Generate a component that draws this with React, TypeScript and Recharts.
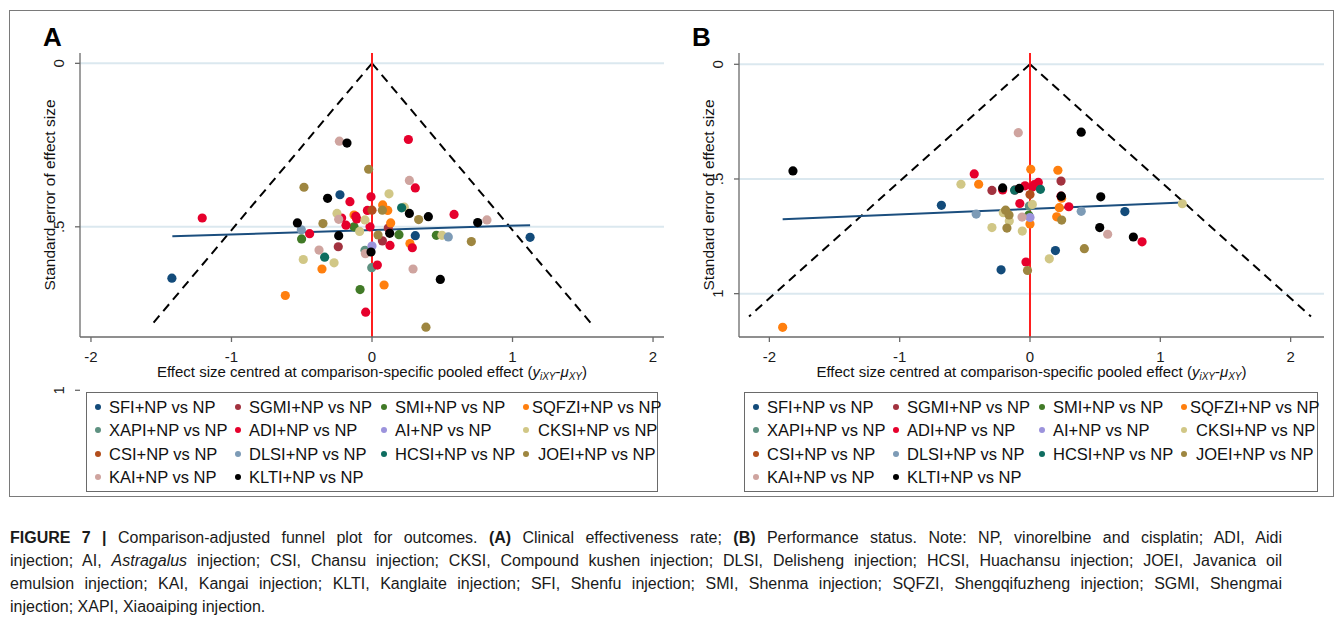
import React from 'react';
import { ScatterChart, Scatter, XAxis, YAxis, ReferenceLine, Legend } from 'recharts';

// ---------- series ----------
const SERIES_NAMES = [
  'SFI+NP vs NP', 'SGMI+NP vs NP', 'SMI+NP vs NP', 'SQFZI+NP vs NP',
  'XAPI+NP vs NP', 'ADI+NP vs NP', 'AI+NP vs NP', 'CKSI+NP vs NP',
  'CSI+NP vs NP', 'DLSI+NP vs NP', 'HCSI+NP vs NP', 'JOEI+NP vs NP',
  'KAI+NP vs NP', 'KLTI+NP vs NP',
];
const SERIES_COLORS = [
  '#134b7a', '#a2323f', '#417a27', '#ff7f0e',
  '#5e9181', '#e6002c', '#9c93dc', '#d1c786',
  '#b24e1c', '#7d9bb6', '#0e6d60', '#9e8640',
  '#cfa49f', '#000000',
];

// ---------- panel A: [effect centred, standard error] ----------
const A_SFI = [[-0.228, 0.402], [0.308, 0.527], [1.125, 0.532], [-1.424, 0.657]];
const A_SGMI = [[0.116, 0.504], [-0.24, 0.561], [0.074, 0.543]];
const A_SMI = [[-0.128, 0.5], [-0.501, 0.537], [0.192, 0.524], [0.458, 0.526], [-0.085, 0.692]];
const A_SQFZI = [[0.076, 0.433], [0.112, 0.45], [-0.128, 0.464], [0.133, 0.488], [0.27, 0.551], [-0.356, 0.629], [-0.617, 0.71], [0.086, 0.678]];
const A_XAPI = [[-0.05, 0.572], [-0.002, 0.625]];
const A_ADI = [[0.259, 0.233], [0.308, 0.381], [-0.157, 0.423], [-0.007, 0.408], [-1.208, 0.473], [-0.033, 0.45], [0.584, 0.462], [-0.109, 0.476], [-0.115, 0.468], [-0.185, 0.495], [-0.216, 0.473], [-0.014, 0.5], [-0.444, 0.521], [0.128, 0.557], [0.287, 0.564], [0.038, 0.617], [-0.045, 0.761]];
const A_AI = [[0, 0.559]];
const A_CKSI = [[0.121, 0.399], [-0.249, 0.459], [-0.05, 0.479], [-0.088, 0.514], [0.498, 0.526], [-0.489, 0.6], [-0.27, 0.61], [0.23, 0.44]];
const A_CSI = [[0, 0.449]];
const A_DLSI = [[-0.503, 0.509], [0.543, 0.531]];
const A_HCSI = [[0.211, 0.442], [-0.337, 0.593]];
const A_JOEI = [[-0.024, 0.324], [-0.484, 0.379], [0.074, 0.449], [0.332, 0.478], [-0.349, 0.49], [0.043, 0.525], [0.707, 0.545], [0.384, 0.807]];
const A_KAI = [[-0.232, 0.238], [0.266, 0.358], [-0.237, 0.477], [0.818, 0.479], [-0.377, 0.571], [-0.047, 0.582], [0.292, 0.629]];
const A_KLTI = [[-0.178, 0.244], [-0.316, 0.413], [0.266, 0.459], [0.401, 0.469], [0.752, 0.487], [-0.531, 0.488], [-0.237, 0.527], [0.126, 0.52], [-0.007, 0.577], [0.486, 0.661]];

// ---------- panel B ----------
const B_SFI = [[-0.68, 0.615], [0.728, 0.642], [0.195, 0.812], [-0.222, 0.896]];
const B_SGMI = [[-0.292, 0.55], [0.238, 0.509]];
const B_SMI = [[-0.01, 0.658]];
const B_SQFZI = [[0.006, 0.458], [0.214, 0.462], [-0.394, 0.523], [0.243, 0.584], [0.225, 0.625], [0.205, 0.665], [0, 0.696], [-1.898, 1.147]];
const B_XAPI = [[-0.005, 0.618]];
const B_ADI = [[-0.428, 0.478], [-0.21, 0.548], [-0.115, 0.548], [-0.038, 0.53], [0.018, 0.535], [0.033, 0.525], [0.064, 0.515], [0.238, 0.575], [-0.078, 0.607], [0.298, 0.621], [0.86, 0.774], [-0.031, 0.862]];
const B_AI = [[0, 0.668]];
const B_CKSI = [[-0.53, 0.523], [0.018, 0.611], [1.169, 0.608], [-0.205, 0.647], [-0.159, 0.683], [-0.292, 0.712], [-0.059, 0.727], [0.148, 0.848]];
const B_CSI = [[0, 0.568]];
const B_DLSI = [[-0.413, 0.653], [0.393, 0.641]];
const B_HCSI = [[-0.118, 0.549], [0.08, 0.545]];
const B_JOEI = [[-0.187, 0.636], [-0.161, 0.657], [-0.177, 0.714], [0.243, 0.679], [0.417, 0.804], [-0.019, 0.899]];
const B_KAI = [[-0.09, 0.298], [-0.061, 0.666], [0.596, 0.741]];
const B_KLTI = [[0.393, 0.296], [-1.819, 0.465], [-0.21, 0.539], [-0.082, 0.541], [0.24, 0.575], [0.543, 0.578], [0.535, 0.712], [0.793, 0.753]];

const PANEL_A = [A_SFI, A_SGMI, A_SMI, A_SQFZI, A_XAPI, A_ADI, A_AI, A_CKSI, A_CSI, A_DLSI, A_HCSI, A_JOEI, A_KAI, A_KLTI];
const PANEL_B = [B_SFI, B_SGMI, B_SMI, B_SQFZI, B_XAPI, B_ADI, B_AI, B_CKSI, B_CSI, B_DLSI, B_HCSI, B_JOEI, B_KAI, B_KLTI];

// pseudo 95% funnel: max standard error, and regression line end points
const FUNNEL_SE_A = 0.8;
const FUNNEL_SE_B = 1.1;
const REG_A = [[-1.421, 0.529], [1.125, 0.495]];
const REG_B = [[-1.898, 0.676], [1.171, 0.603]];

const X_TICKS = [-2, -1, 0, 1, 2];
const Y_TICKS = [0, 0.5, 1];

const FONT = '"Liberation Sans", Arial, Helvetica, sans-serif';
const AXIS_COLOR = '#6a6a6a';

const fmtY = (v: number) => (v === 0 ? '0' : v === 1 ? '1' : String(v).replace(/^0/, ''));

const YTick = (props: any) => {
  const { x, y, payload } = props;
  return (
    <text x={x} y={y} transform={`rotate(-90 ${x} ${y})`} textAnchor="middle" fontSize={15} fill="#1a1a1a">
      {fmtY(payload.value)}
    </text>
  );
};

const XLabel = (props: any) => {
  const vb = props.viewBox;
  const cx = vb.x + vb.width / 2;
  return (
    <text x={cx} y={vb.y + 40} textAnchor="middle" fontSize={15} fill="#111">
      Effect size centred at comparison-specific pooled effect (
      <tspan fontStyle="italic">y</tspan>
      <tspan fontStyle="italic" fontSize={10} dy={3}>iXY</tspan>
      <tspan dy={-3}>-</tspan>
      <tspan fontStyle="italic">μ</tspan>
      <tspan fontStyle="italic" fontSize={10} dy={3}>XY</tspan>
      <tspan dy={-3}>)</tspan>
    </text>
  );
};

const YLabel = (props: any) => {
  const vb = props.viewBox;
  const x = vb.x + vb.width - 25;
  const y = vb.y + vb.height / 2;
  return (
    <text x={x} y={y} transform={`rotate(-90 ${x} ${y})`} textAnchor="middle" fontSize={15.5} fill="#111">
      Standard error of effect size
    </text>
  );
};

const TEXT_COLS = [22, 162, 308, 451];

const LegendBox = () => (
  <div style={{ position: 'relative', width: '100%', height: '100%', border: '1.5px solid #6a6a6a', boxSizing: 'border-box', background: '#fff', fontFamily: FONT }}>
    {SERIES_NAMES.map((n, i) => {
      const row = Math.floor(i / 4);
      const col = i % 4;
      const cy = 14 + row * 23.4;
      const special = n.startsWith('SQFZI');
      const textLeft = special ? 445 : TEXT_COLS[col];
      const markerX = col === 3 ? 439 : TEXT_COLS[col] - 11;
      return (
        <React.Fragment key={n}>
          <div style={{ position: 'absolute', left: markerX - 3, top: cy - 3, width: 6, height: 6, borderRadius: 3, background: SERIES_COLORS[i] }} />
          <div style={{ position: 'absolute', left: textLeft, top: cy - 10, height: 20, lineHeight: '20px', fontSize: 16.5, color: '#111', whiteSpace: 'nowrap' }}>{n}</div>
        </React.Fragment>
      );
    })}
  </div>
);

const dotShape = (color: string) => (p: any) => <circle cx={p.cx} cy={p.cy} r={4.6} fill={color} />;

type PanelProps = {
  left: number; width: number; yAxisWidth: number; marginRight: number;
  data: number[][][]; xDomain: [number, number]; yDomain: [number, number];
  funnelSe: number; reg: number[][]; legendLeft: number; legendWidth: number;
};

const Panel = ({ left, width, yAxisWidth, marginRight, data, xDomain, yDomain, funnelSe, reg, legendLeft, legendWidth }: PanelProps) => {
  const fx = 1.96 * funnelSe;
  return (
    <div style={{ position: 'absolute', left, top: 0, width, height: 500 }}>
      <ScatterChart width={width} height={500} margin={{ top: 53, right: marginRight, bottom: 123, left: 0 }}>
        <XAxis
          type="number" dataKey="x" domain={xDomain} ticks={X_TICKS} interval={0} allowDataOverflow
          height={40} tickSize={5} tickMargin={9}
          stroke={AXIS_COLOR} strokeWidth={1.3}
          tick={{ fontSize: 15, fill: '#1a1a1a' }}
          label={XLabel}
        />
        <YAxis
          type="number" dataKey="y" domain={yDomain} ticks={Y_TICKS} interval={0} allowDataOverflow reversed
          width={yAxisWidth} tickSize={5} tickMargin={11}
          stroke={AXIS_COLOR} strokeWidth={1.3}
          tick={YTick}
          label={YLabel}
        />
        {Y_TICKS.map((t) => (
          <ReferenceLine key={'g' + t} y={t} stroke="#dbe8ef" strokeWidth={2} />
        ))}
        <ReferenceLine segment={[{ x: 0, y: 0 }, { x: -fx, y: funnelSe }]} stroke="#000" strokeWidth={2} strokeDasharray="9 6" />
        <ReferenceLine segment={[{ x: 0, y: 0 }, { x: fx, y: funnelSe }]} stroke="#000" strokeWidth={2} strokeDasharray="9 6" />
        <ReferenceLine x={0} stroke="#ff1f1f" strokeWidth={2} />
        <ReferenceLine segment={[{ x: reg[0][0], y: reg[0][1] }, { x: reg[1][0], y: reg[1][1] }]} stroke="#1b4e7e" strokeWidth={2} />
        {data.map((pts, i) => (
          <Scatter
            key={SERIES_NAMES[i]}
            name={SERIES_NAMES[i]}
            data={pts.map(([x, y]) => ({ x, y }))}
            fill={SERIES_COLORS[i]}
            shape={dotShape(SERIES_COLORS[i])}
            isAnimationActive={false}
          />
        ))}
        <Legend
          layout="horizontal" verticalAlign="middle" align="center"
          content={LegendBox}
          wrapperStyle={{ left: legendLeft, top: 392, width: legendWidth, height: 100 }}
        />
      </ScatterChart>
    </div>
  );
};

const lineStyle: React.CSSProperties = { textAlign: 'justify', textAlignLast: 'justify', whiteSpace: 'nowrap' };

export default function App() {
  return (
    <div style={{ position: 'relative', width: 1342, height: 629, background: '#fff', overflow: 'hidden', fontFamily: FONT }}>
      <style>{'body{margin:0}'}</style>
      <div style={{ position: 'absolute', left: 9, top: 10, width: 1325, height: 487, border: '1px solid #7a7a7a', boxSizing: 'border-box' }} />
      <Panel left={0} width={680} yAxisWidth={80} marginRight={16} data={PANEL_A}
        xDomain={[-2.078, 2.078]} yDomain={[-0.0316, 0.837]} funnelSe={FUNNEL_SE_A} reg={REG_A}
        legendLeft={86} legendWidth={572} />
      <Panel left={660} width={682} yAxisWidth={79} marginRight={18} data={PANEL_B}
        xDomain={[-2.233, 2.256]} yDomain={[-0.0493, 1.189]} funnelSe={FUNNEL_SE_B} reg={REG_B}
        legendLeft={84} legendWidth={574} />
      <div style={{ position: 'absolute', left: 43, top: 24, fontSize: 26, lineHeight: '26px', fontWeight: 'bold', color: '#000' }}>A</div>
      <div style={{ position: 'absolute', left: 692, top: 24, fontSize: 26, lineHeight: '26px', fontWeight: 'bold', color: '#000' }}>B</div>
      <div style={{ position: 'absolute', left: 10, top: 526, width: 1272, fontSize: 16, lineHeight: '23px', color: '#1a1a1a' }}>
        <div style={lineStyle}>
          <b>FIGURE 7 |</b> Comparison-adjusted funnel plot for outcomes. <b>(A)</b> Clinical effectiveness rate; <b>(B)</b> Performance status. Note: NP, vinorelbine and cisplatin; ADI, Aidi
        </div>
        <div style={lineStyle}>
          injection; AI, <i>Astragalus</i> injection; CSI, Chansu injection; CKSI, Compound kushen injection; DLSI, Delisheng injection; HCSI, Huachansu injection; JOEI, Javanica oil
        </div>
        <div style={lineStyle}>
          emulsion injection; KAI, Kangai injection; KLTI, Kanglaite injection; SFI, Shenfu injection; SMI, Shenma injection; SQFZI, Shengqifuzheng injection; SGMI, Shengmai
        </div>
        <div style={{ whiteSpace: 'nowrap' }}>
          injection; XAPI, Xiaoaiping injection.
        </div>
      </div>
    </div>
  );
}
